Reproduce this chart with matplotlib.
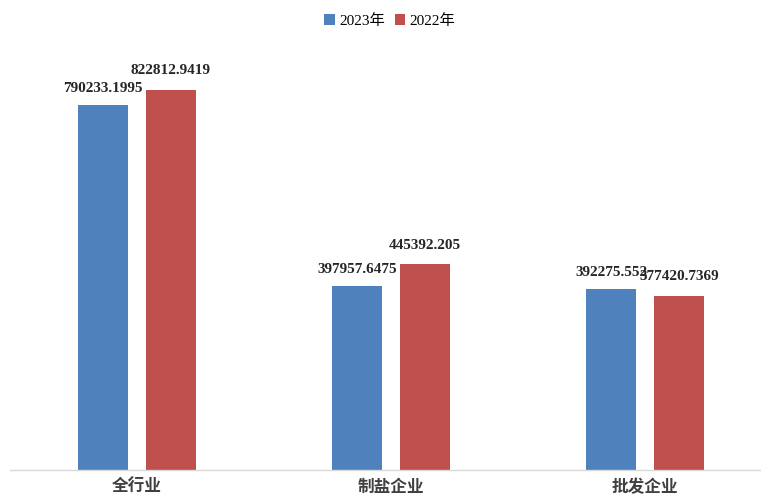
import matplotlib.pyplot as plt
import numpy as np

# data
categories = ["全行业", "制盐企业", "批发企业"]
values_2023 = [790233.1995, 397957.6475, 392275.552]
values_2022 = [822812.9419, 445392.205, 377420.7369]
labels_2023 = ["790233.1995", "397957.6475", "392275.552"]
labels_2022 = ["822812.9419", "445392.205", "377420.7369"]
series_names = ["2023年", "2022年"]

blue = "#4F81BD"
red = "#C0504D"

fig = plt.figure(figsize=(7.61, 4.99), dpi=100)
# axes runs a bit past the right edge like the original
ax = fig.add_axes([10 / 761, 29 / 499, 762 / 761, 430 / 499])

x = np.arange(len(categories))
w = 0.2
off = 0.1335
b1 = ax.bar(x - off, values_2023, w, color=blue, label=series_names[0])
b2 = ax.bar(x + off, values_2022, w, color=red, label=series_names[1])

ax.set_xlim(-0.5, 2.5)
ax.set_ylim(0, 930800)

valfont = dict(family="Liberation Serif", weight="bold", size=11, color="#262626")
for bars, labs, dy in [(b1, labels_2023, 7), (b2, labels_2022, 9)]:
    for rect, lab in zip(bars, labs):
        ax.annotate(lab, (rect.get_x() + rect.get_width() / 2, rect.get_height()),
                    xytext=(0, dy), textcoords="offset points",
                    ha="center", va="bottom", **valfont)

ax.set_xticks(x)
ax.set_xticklabels(categories, family=["Noto Sans CJK SC", "DejaVu Sans"],
                   fontsize=12, fontweight="bold", color="#404040")
ax.tick_params(axis="x", length=0, pad=6)
ax.set_yticks([])
for s in ["top", "right", "left"]:
    ax.spines[s].set_visible(False)
ax.spines["bottom"].set_color("#D9D9D9")
ax.spines["bottom"].set_linewidth(1.0)

fig.legend(handles=[b1, b2], labels=series_names, loc="center",
           bbox_to_anchor=(390 / 761, 1 - 21 / 499), ncol=2, frameon=False,
           handlelength=0.7, handleheight=0.7, handletextpad=0.3, columnspacing=0.6,
           prop={"family": ["Liberation Serif", "Noto Sans CJK SC"], "size": 11})

fig.savefig("out.png", dpi=100)
